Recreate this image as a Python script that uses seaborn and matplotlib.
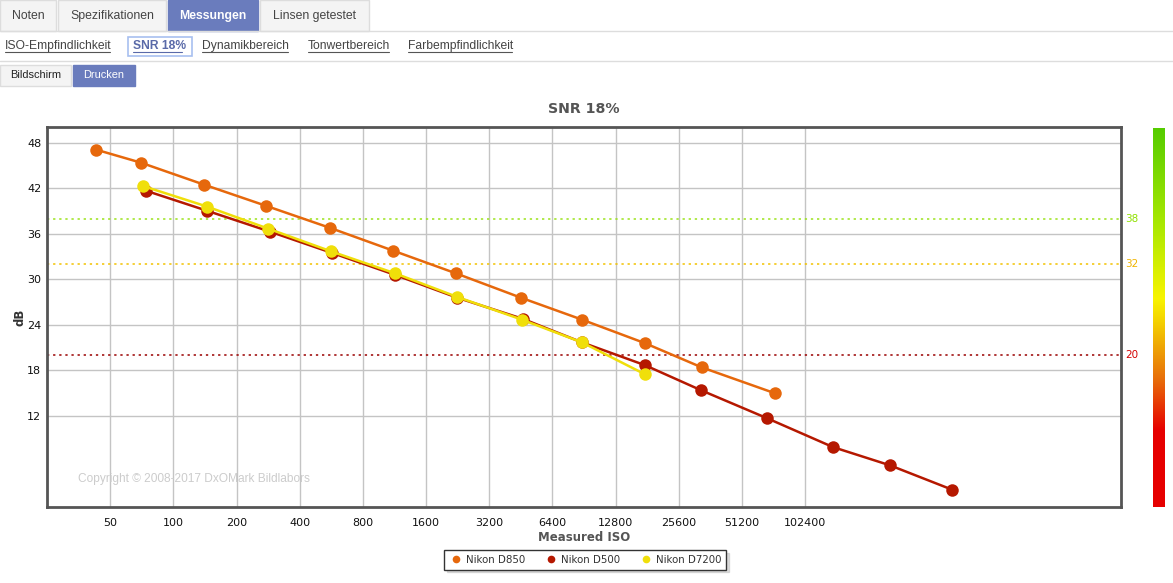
"""
DxOMark style SNR 18% chart (print view) for D850 / D500 / D7200.
"""
import matplotlib.pyplot as plt
import numpy as np
import pandas as pd
import seaborn as sns
from matplotlib.colors import LinearSegmentedColormap
from matplotlib.lines import Line2D
from matplotlib.patches import Rectangle

# ---- data --------------------------------------------------------------------
d850_iso = [43, 70, 140, 277, 558, 1114, 2224, 4525, 8860, 17660, 33000, 73450]
d850_db = [47.1, 45.4, 42.5, 39.7, 36.8, 33.8, 30.8, 27.6, 24.7, 21.6, 18.4, 15.0]

d500_iso = [74, 145, 289, 570, 1140, 2250, 4630, 8860, 17660, 32650, 67500,
            139000, 259500, 512000]
d500_db = [41.7, 39.05, 36.3, 33.5, 30.6, 27.6, 24.8, 21.7, 18.7, 15.4, 11.7,
           7.9, 5.5, 2.3]

d7200_iso = [72, 145, 283, 565, 1140, 2250, 4580, 8860, 17660]
d7200_db = [42.3, 39.6, 36.7, 33.7, 30.8, 27.7, 24.7, 21.7, 17.5]

cameras = ["Nikon D850", "Nikon D500", "Nikon D7200"]
palette = {"Nikon D850": "#e6680c", "Nikon D500": "#b51800", "Nikon D7200": "#f0df0a"}

x_ticks = [50, 100, 200, 400, 800, 1600, 3200, 6400, 12800, 25600, 51200, 102400]
y_ticks = [12, 18, 24, 30, 36, 42, 48]

# reference levels drawn as dotted lines (value, line colour, label colour)
ref_levels = [38, 32, 20]
ref_line_colors = ["#9be31a", "#f2c200", "#9a0000"]
ref_text_colors = ["#8fe000", "#f0b400", "#d40000"]

tabs = ["Noten", "Spezifikationen", "Messungen", "Linsen getestet"]
links = ["ISO-Empfindlichkeit", "SNR 18%", "Dynamikbereich", "Tonwertbereich",
         "Farbempfindlichkeit"]
buttons = ["Bildschirm", "Drucken"]

df = pd.concat([
    pd.DataFrame({"iso": d850_iso, "db": d850_db, "camera": cameras[0]}),
    pd.DataFrame({"iso": d500_iso, "db": d500_db, "camera": cameras[1]}),
    pd.DataFrame({"iso": d7200_iso, "db": d7200_db, "camera": cameras[2]}),
], ignore_index=True)

sns.set_theme(style="white")
plt.rcParams["font.family"] = ["DejaVu Sans"]

W, H = 1173, 583
fig = plt.figure(figsize=(W / 100, H / 100), dpi=100)


def px(x, y):
    """pixel (from top-left) -> figure fraction"""
    return x / W, 1 - y / H


# ---- page header (tabs / links / buttons) ----------------------------------
HDR = ["Liberation Sans", "DejaVu Sans"]
blue = "#6a7cbd"
tab_x = [(0, 56), (58, 166), (168, 258), (260, 369)]
for name, (x0, x1) in zip(tabs, tab_x):
    active = name == "Messungen"
    fx, fy = px(x0, 31)
    fig.patches.append(Rectangle((fx, fy), (x1 - x0) / W, 31 / H, transform=fig.transFigure,
                                 facecolor=blue if active else "#f4f4f4",
                                 edgecolor=blue if active else "#dddddd", lw=1))
    tx, ty = px((x0 + x1) / 2, 16)
    fig.text(tx, ty, name, ha="center", va="center", family=HDR, fontsize=8.8,
             color="white" if active else "#444444",
             fontweight="bold" if active else "normal")
fig.add_artist(Line2D([0, 1], [1 - 31 / H] * 2, color="#dddddd", lw=1))

link_x = [5, 133, 202, 308, 408]
link_w = [105, 49, 86, 81, 104]
for name, x0, w in zip(links, link_x, link_w):
    tx, ty = px(x0, 46)
    active = name == "SNR 18%"
    fig.text(tx, ty, name, ha="left", va="center", family=HDR, fontsize=8.7,
             color="#5a6aa8" if active else "#444444",
             fontweight="bold" if active else "normal")
    # fake underline
    fig.add_artist(Line2D([x0 / W, (x0 + w) / W], [1 - 52 / H] * 2,
                          color="#5a6aa8" if active else "#555555", lw=0.8))
bx, by = px(128, 56)
fig.patches.append(Rectangle((bx, by), 64 / W, 19 / H, transform=fig.transFigure,
                             facecolor="none", edgecolor="#a8c0f0", lw=1.2))
fig.add_artist(Line2D([0, 1], [1 - 61 / H] * 2, color="#dddddd", lw=1))

btn_x = [(0, 71), (73, 135)]
for name, (x0, x1) in zip(buttons, btn_x):
    active = name == "Drucken"
    fx, fy = px(x0, 86)
    fig.patches.append(Rectangle((fx, fy), (x1 - x0) / W, 21 / H, transform=fig.transFigure,
                                 facecolor=blue if active else "#f4f4f4",
                                 edgecolor=blue if active else "#dddddd", lw=1))
    tx, ty = px((x0 + x1) / 2, 75)
    fig.text(tx, ty, name, ha="center", va="center", family=HDR, fontsize=7.9,
             color="white" if active else "#222222")

# ---- main chart ------------------------------------------------------------
ax = fig.add_axes([47 / W, 1 - 507 / H, (1121 - 47) / W, (507 - 127) / H])
ax.set_xscale("log", base=2)

for lvl, lc, tc in zip(ref_levels, ref_line_colors, ref_text_colors):
    ax.axhline(lvl, color=lc, lw=1.1, ls=(0, (1.5, 2.5)), zorder=1)
    ax.annotate(str(lvl), xy=(1, lvl), xycoords=("axes fraction", "data"),
                xytext=(3, 0), textcoords="offset points", va="center",
                fontsize=7.5, color=tc)

sns.lineplot(data=df, x="iso", y="db", hue="camera", palette=palette, sort=False,
             marker="o", markersize=9, markeredgewidth=0, lw=1.8, ax=ax,
             legend=False, zorder=3)

ax.set_xlim(25, 3276800)
ax.set_ylim(0, 50.1)
ax.set_xticks(x_ticks)
ax.set_xticklabels([str(v) for v in x_ticks])
ax.xaxis.set_minor_locator(plt.NullLocator())
ax.set_yticks(y_ticks)
ax.grid(True, color="#c4c4c4", lw=1)
ax.tick_params(axis="both", length=0, labelsize=8, colors="#111111")
ax.tick_params(axis="x", pad=8)
ax.tick_params(axis="y", pad=4)
for s in ax.spines.values():
    s.set_color("#555555")
    s.set_linewidth(2)
ax.set_xlabel("Measured ISO", fontsize=8.5, fontweight="bold", color="#555555", labelpad=2)
ax.set_ylabel("dB", fontsize=8.5, fontweight="bold", color="#333333", va="center")
ax.yaxis.set_label_coords(-0.025, 0.5)
ax.set_title("SNR 18%", fontsize=10.2, fontweight="bold", color="#555555", pad=10)
ax.text(0.029, 0.065, "Copyright \u00a9 2008-2017 DxOMark Bildlabors", transform=ax.transAxes,
        fontsize=8.6, color="#cccccc", family=HDR)

# ---- colour bar on the far right -------------------------------------------
cmap = LinearSegmentedColormap.from_list("dxo", [
    (0.0, "#e60000"), (0.2, "#e60000"), (0.34, "#e8700a"), (0.5, "#f5d800"),
    (0.55, "#f8f400"), (0.75, "#a8e800"), (1.0, "#55cc00")])
cax = fig.add_axes([1153 / W, 1 - 507 / H, 12 / W, (507 - 128) / H])
cax.imshow(np.linspace(0, 1, 256)[:, None], aspect="auto", cmap=cmap, origin="lower")
cax.set_axis_off()

# ---- legend ----------------------------------------------------------------
handles = [Line2D([], [], ls="none", marker="o", markersize=5.5, markeredgewidth=0,
                  color=palette[c]) for c in cameras]
fig.legend(handles, cameras, loc="center", bbox_to_anchor=px(585, 560), ncol=3,
           frameon=True, fancybox=False, shadow={"color": "#bbbbbb"}, edgecolor="#333333",
           fontsize=7.4, handletextpad=0.2, handlelength=1.5, columnspacing=1.8,
           borderpad=0.45, labelcolor="#333333")

fig.savefig("out.png", dpi=100)
